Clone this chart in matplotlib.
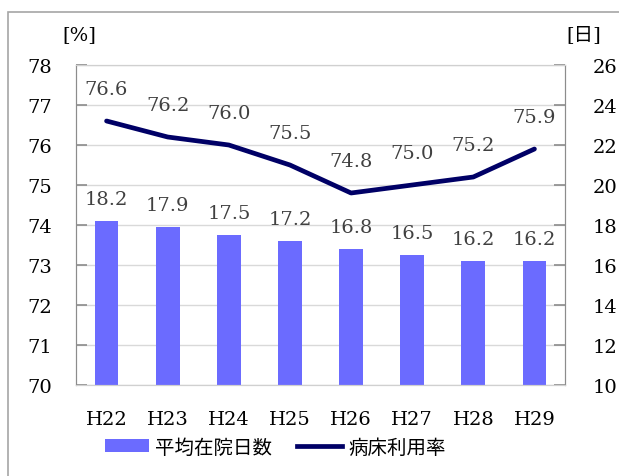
import matplotlib

matplotlib.use("Agg")
import matplotlib.pyplot as plt
from matplotlib.patches import Patch, Rectangle
from matplotlib.lines import Line2D

YEARS = ["H22", "H23", "H24", "H25", "H26", "H27", "H28", "H29"]
STAY_DAYS = [18.2, 17.9, 17.5, 17.2, 16.8, 16.5, 16.2, 16.2]
BED_RATE = [76.6, 76.2, 76.0, 75.5, 74.8, 75.0, 75.2, 75.9]

BAR_COLOR = "#6B6BFF"
LINE_COLOR = "#000066"
SERIF = "DejaVu Serif"
JP = ["Noto Sans CJK JP", "DejaVu Sans"]
NUM_SIZE = 14

fig = plt.figure(figsize=(6.19, 4.77), dpi=100)

# outer chart frame (cut off on right / bottom like the source)
fig.patches.append(Rectangle((8 / 619, -0.05), 1.2, 1 - 13 / 477 + 0.05,
                             transform=fig.transFigure, fill=False,
                             edgecolor="#A6A6A6", linewidth=1.2))

pos = [76 / 619, 1 - 386 / 477, (565 - 76) / 619, (386 - 66) / 477]
ax_bar = fig.add_axes(pos)
ax_line = ax_bar.twinx()
ax_line.set_zorder(ax_bar.get_zorder() + 1)
ax_line.patch.set_visible(False)

x = list(range(len(YEARS)))

# bars on right-hand scale (days)
ax_bar.set_ylim(10, 26)
ax_bar.set_yticks(range(10, 27, 2))
ax_bar.grid(axis="y", color="#D9D9D9", linewidth=1.0)
ax_bar.set_axisbelow(True)
ax_bar.bar(x, STAY_DAYS, width=0.39, color=BAR_COLOR, zorder=2)
for xi, v in zip(x, STAY_DAYS):
    ax_bar.annotate(f"{v:.1f}", (xi, v), xytext=(0, 16), textcoords="offset points",
                    ha="center", va="center", fontsize=NUM_SIZE, family=SERIF, color="#404040")
ax_bar.set_xlim(-0.5, len(YEARS) - 0.5)
ax_bar.yaxis.tick_right()

# line on left-hand scale (%)
ax_line.plot(x, BED_RATE, color=LINE_COLOR, linewidth=3.4, solid_capstyle="round", zorder=3)
for xi, v in zip(x, BED_RATE):
    ax_line.annotate(f"{v:.1f}", (xi, v), xytext=(0, 23), textcoords="offset points",
                     ha="center", va="center", fontsize=NUM_SIZE, family=SERIF, color="#404040")
ax_line.set_ylim(70, 78)
ax_line.set_yticks(range(70, 79))
ax_line.yaxis.tick_left()

for ax, pad in ((ax_bar, 20), (ax_line, 17)):
    ax.spines["top"].set_color("#D0D0D0")
    ax.spines["bottom"].set_color("#D0D0D0")
    ax.spines["left"].set_color("#8C8C8C")
    ax.spines["right"].set_color("#8C8C8C")
    ax.tick_params(axis="y", direction="in", length=8, color="#8C8C8C", width=1.2,
                   labelsize=NUM_SIZE, pad=pad)
    for lab in ax.get_yticklabels():
        lab.set_family(SERIF)

ax_bar.set_xticks(x)
ax_bar.set_xticklabels(YEARS, family=SERIF, fontsize=NUM_SIZE)
ax_bar.tick_params(axis="x", length=0, pad=18)
ax_line.tick_params(axis="x", length=0)

fig.text(79 / 619, 1 - 35 / 477, "[%]", ha="center", va="center",
         fontsize=NUM_SIZE, family=SERIF)
fig.text(584 / 619, 1 - 35 / 477, "[日]", ha="center", va="center",
         fontsize=NUM_SIZE, family=[SERIF, "Noto Sans CJK JP"])

handles = [Patch(facecolor=BAR_COLOR, edgecolor="none"),
           Line2D([], [], color=LINE_COLOR, linewidth=3.4)]
leg = fig.legend(handles, ["平均在院日数", "病床利用率"], loc="center",
                 bbox_to_anchor=(275 / 619, 1 - 448 / 477), ncol=2, frameon=False,
                 prop={"family": JP, "size": 14}, handlelength=2.3,
                 handletextpad=0.3, columnspacing=1.3, handleheight=0.6)

fig.savefig("out.png", dpi=100)
